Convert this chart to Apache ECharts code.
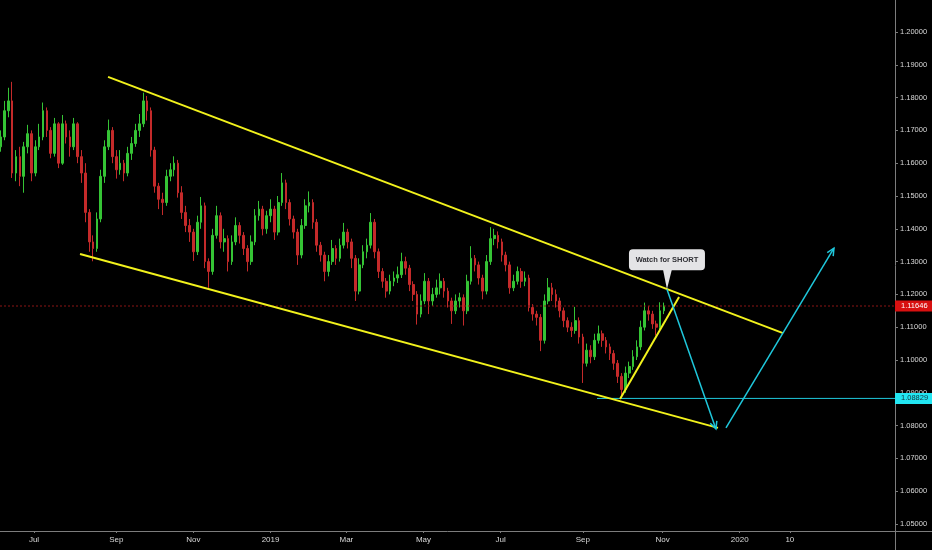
<!DOCTYPE html>
<html><head><meta charset="utf-8">
<script src="https://cdn.jsdelivr.net/npm/echarts@6/dist/echarts.min.js"></script>
<style>html,body{margin:0;padding:0;background:#000}#c{width:932px;height:550px}</style>
</head><body><div id="c"></div>
<script>
// Days counted from 1 Jul 2018; one candle per 3 days
const firstDay = -26;
const stepDays = 3;
// [open, close, low, high]
const ohlc = [
[1.1650,1.1680,1.1635,1.1700],[1.1680,1.1760,1.1670,1.1790],[1.1760,1.1790,1.1740,1.1830],[1.1790,1.1570,1.1555,1.1848],
[1.1570,1.1620,1.1545,1.1640],[1.1620,1.1560,1.1530,1.1650],[1.1560,1.1650,1.1510,1.1665],[1.1650,1.1690,1.1630,1.1717],
[1.1690,1.1570,1.1545,1.1700],[1.1570,1.1650,1.1560,1.1670],[1.1650,1.1680,1.1640,1.1720],[1.1680,1.1760,1.1670,1.1785],
[1.1760,1.1700,1.1680,1.1770],[1.1700,1.1630,1.1615,1.1710],[1.1630,1.1720,1.1620,1.1738],[1.1720,1.1600,1.1585,1.1725],
[1.1600,1.1720,1.1595,1.1747],[1.1720,1.1680,1.1660,1.1730],[1.1680,1.1650,1.1620,1.1700],[1.1650,1.1720,1.1640,1.1738],
[1.1720,1.1620,1.1600,1.1725],[1.1620,1.1570,1.1540,1.1640],[1.1570,1.1450,1.1420,1.1600],[1.1450,1.1360,1.1330,1.1460],
[1.1360,1.1340,1.1301,1.1380],[1.1340,1.1430,1.1330,1.1450],[1.1430,1.1560,1.1420,1.1580],[1.1560,1.1650,1.1540,1.1670],
[1.1650,1.1700,1.1640,1.1733],[1.1700,1.1620,1.1600,1.1710],[1.1620,1.1580,1.1553,1.1640],[1.1580,1.1600,1.1565,1.1640],
[1.1600,1.1570,1.1545,1.1610],[1.1570,1.1630,1.1560,1.1650],[1.1630,1.1660,1.1610,1.1680],[1.1660,1.1700,1.1650,1.1720],
[1.1700,1.1720,1.1680,1.1750],[1.1720,1.1790,1.1710,1.1815],[1.1790,1.1760,1.1730,1.1805],[1.1760,1.1640,1.1620,1.1770],
[1.1640,1.1530,1.1510,1.1650],[1.1530,1.1490,1.1460,1.1540],[1.1490,1.1480,1.1442,1.1510],[1.1480,1.1560,1.1470,1.1580],
[1.1560,1.1580,1.1545,1.1600],[1.1580,1.1600,1.1560,1.1621],[1.1600,1.1510,1.1495,1.1610],[1.1510,1.1450,1.1430,1.1530],
[1.1450,1.1410,1.1390,1.1470],[1.1410,1.1390,1.1360,1.1430],[1.1390,1.1330,1.1302,1.1400],[1.1330,1.1420,1.1320,1.1440],
[1.1420,1.1470,1.1400,1.1497],[1.1470,1.1300,1.1280,1.1480],[1.1300,1.1270,1.1220,1.1310],[1.1270,1.1380,1.1260,1.1400],
[1.1380,1.1440,1.1370,1.1470],[1.1440,1.1360,1.1340,1.1450],[1.1360,1.1370,1.1330,1.1400],[1.1370,1.1300,1.1270,1.1380],
[1.1300,1.1360,1.1290,1.1380],[1.1360,1.1410,1.1350,1.1435],[1.1410,1.1380,1.1355,1.1420],[1.1380,1.1340,1.1320,1.1390],
[1.1340,1.1300,1.1270,1.1350],[1.1300,1.1360,1.1290,1.1380],[1.1360,1.1440,1.1350,1.1460],[1.1440,1.1460,1.1425,1.1485],
[1.1460,1.1400,1.1380,1.1470],[1.1400,1.1440,1.1385,1.1455],[1.1440,1.1460,1.1420,1.1490],[1.1460,1.1390,1.1366,1.1470],
[1.1390,1.1480,1.1380,1.1500],[1.1480,1.1540,1.1470,1.1570],[1.1540,1.1480,1.1460,1.1550],[1.1480,1.1430,1.1410,1.1490],
[1.1430,1.1390,1.1370,1.1440],[1.1390,1.1320,1.1290,1.1400],[1.1320,1.1410,1.1310,1.1430],[1.1410,1.1470,1.1400,1.1490],
[1.1470,1.1480,1.1450,1.1514],[1.1480,1.1420,1.1400,1.1490],[1.1420,1.1350,1.1330,1.1430],[1.1350,1.1320,1.1300,1.1360],
[1.1320,1.1270,1.1240,1.1330],[1.1270,1.1300,1.1255,1.1320],[1.1300,1.1340,1.1290,1.1366],[1.1340,1.1310,1.1290,1.1350],
[1.1310,1.1350,1.1300,1.1370],[1.1350,1.1390,1.1340,1.1418],[1.1390,1.1360,1.1340,1.1400],[1.1360,1.1310,1.1280,1.1370],
[1.1310,1.1210,1.1180,1.1320],[1.1210,1.1290,1.1200,1.1310],[1.1290,1.1330,1.1280,1.1350],[1.1330,1.1350,1.1310,1.1370],
[1.1350,1.1420,1.1340,1.1448],[1.1420,1.1330,1.1310,1.1430],[1.1330,1.1270,1.1250,1.1340],[1.1270,1.1240,1.1220,1.1280],
[1.1240,1.1210,1.1190,1.1250],[1.1210,1.1240,1.1200,1.1260],[1.1240,1.1250,1.1225,1.1270],[1.1250,1.1260,1.1235,1.1285],
[1.1260,1.1300,1.1250,1.1327],[1.1300,1.1280,1.1260,1.1315],[1.1280,1.1230,1.1210,1.1290],[1.1230,1.1200,1.1180,1.1240],
[1.1200,1.1140,1.1108,1.1210],[1.1140,1.1180,1.1130,1.1200],[1.1180,1.1240,1.1170,1.1265],[1.1240,1.1180,1.1140,1.1250],
[1.1180,1.1200,1.1165,1.1220],[1.1200,1.1220,1.1190,1.1245],[1.1220,1.1240,1.1200,1.1264],[1.1240,1.1210,1.1190,1.1250],
[1.1210,1.1180,1.1160,1.1220],[1.1180,1.1150,1.1110,1.1190],[1.1150,1.1180,1.1140,1.1200],[1.1180,1.1190,1.1160,1.1205],
[1.1190,1.1150,1.1105,1.1200],[1.1150,1.1240,1.1140,1.1260],[1.1240,1.1310,1.1230,1.1347],[1.1310,1.1290,1.1270,1.1320],
[1.1290,1.1250,1.1230,1.1300],[1.1250,1.1210,1.1185,1.1260],[1.1210,1.1300,1.1200,1.1320],[1.1300,1.1370,1.1290,1.1405],
[1.1370,1.1380,1.1350,1.1400],[1.1380,1.1360,1.1340,1.1392],[1.1360,1.1320,1.1300,1.1370],[1.1320,1.1290,1.1270,1.1330],
[1.1290,1.1220,1.1202,1.1300],[1.1220,1.1240,1.1210,1.1260],[1.1240,1.1270,1.1230,1.1285],[1.1270,1.1240,1.1220,1.1280],
[1.1240,1.1250,1.1225,1.1270],[1.1250,1.1160,1.1148,1.1260],[1.1160,1.1140,1.1120,1.1170],[1.1140,1.1130,1.1105,1.1150],
[1.1130,1.1060,1.1027,1.1140],[1.1060,1.1180,1.1050,1.1200],[1.1180,1.1220,1.1170,1.1250],[1.1220,1.1200,1.1180,1.1235],
[1.1200,1.1180,1.1160,1.1215],[1.1180,1.1150,1.1130,1.1190],[1.1150,1.1120,1.1100,1.1160],[1.1120,1.1100,1.1085,1.1130],
[1.1100,1.1090,1.1070,1.1115],[1.1090,1.1120,1.1080,1.1162],[1.1120,1.1070,1.1050,1.1130],[1.1070,1.0990,1.0930,1.1080],
[1.0990,1.1030,1.0980,1.1050],[1.1030,1.1010,1.0990,1.1045],[1.1010,1.1060,1.1000,1.1080],[1.1060,1.1080,1.1050,1.1105],
[1.1080,1.1060,1.1040,1.1090],[1.1060,1.1040,1.1020,1.1070],[1.1040,1.1020,1.1000,1.1050],[1.1020,1.0990,1.0970,1.1030],
[1.0990,1.0950,1.0930,1.1000],[1.0950,1.0910,1.0883,1.0960],[1.0910,1.0960,1.0900,1.0980],[1.0960,1.0980,1.0945,1.0995],
[1.0980,1.1010,1.0970,1.1030],[1.1010,1.1040,1.1000,1.1060],[1.1040,1.1100,1.1030,1.1120],[1.1100,1.1150,1.1090,1.1175],
[1.1150,1.1140,1.1120,1.1165],[1.1140,1.1110,1.1095,1.1150],[1.1110,1.1100,1.1075,1.1120],[1.1100,1.1150,1.1090,1.1176],
[1.1150,1.1165,1.1140,1.1175]
];
const tickDays = [0, 64, 124, 184, 243, 303, 363, 427, 489, 549, 588];
const tickLabels = ['Jul', 'Sep', 'Nov', '2019', 'Mar', 'May', 'Jul', 'Sep', 'Nov', '2020', '10'];
const priceTicks = [1.05, 1.06, 1.07, 1.08, 1.09, 1.10, 1.11, 1.12, 1.13, 1.14, 1.15, 1.16, 1.17, 1.18, 1.19, 1.20];
const lastPrice = 1.11646;
const supportLevel = 1.08829;
const supportStartDay = 438;
// [day1, price1, day2, price2]
const yellowLines = [[57.6, 1.1863, 582.7, 1.1082], [35.8, 1.1323, 532.1, 1.0793], [455.9, 1.0881, 501.8, 1.1192]];
const cyanArrows = [[492.4, 1.1216, 530.5, 1.0790], [538.3, 1.0793, 622.3, 1.1341]];
const calloutPoint = [492.4, 1.1216];
const calloutText = 'Watch for SHORT';

const candleData = ohlc.map((v, i) => [firstDay + i * stepDays, v[0], v[1], v[2], v[3]]);
const FONT = 'Liberation Sans, Arial, sans-serif';
const CYAN = '#1fc8dc';
const YELLOW = '#f2f21c';
const AXIS = '#7c7c7c';

const chart = echarts.init(document.getElementById('c'), null, {renderer: 'canvas'});

function segItem(params, api) {
  const a = api.coord([api.value(0), api.value(1)]);
  const b = api.coord([api.value(2), api.value(3)]);
  return {type: 'line', shape: {x1: a[0], y1: a[1], x2: b[0], y2: b[1]}, style: {stroke: YELLOW, lineWidth: 2}};
}
function arrowItem(params, api) {
  const a = api.coord([api.value(0), api.value(1)]);
  const b = api.coord([api.value(2), api.value(3)]);
  const ang = Math.atan2(b[1] - a[1], b[0] - a[0]);
  const L = 8, w = 0.45;
  const p1 = [b[0] - L * Math.cos(ang - w), b[1] - L * Math.sin(ang - w)];
  const p2 = [b[0] - L * Math.cos(ang + w), b[1] - L * Math.sin(ang + w)];
  return {type: 'group', children: [
    {type: 'line', shape: {x1: a[0], y1: a[1], x2: b[0], y2: b[1]}, style: {stroke: CYAN, lineWidth: 1.5}},
    {type: 'polyline', shape: {points: [p1, b, p2]}, style: {stroke: CYAN, lineWidth: 1.5, fill: null}}
  ]};
}
function levelItem(params, api) {
  const cs = params.coordSys;
  const price = api.value(0);
  const start = api.value(1);
  const kind = api.value(2);
  const y = api.coord([0, price])[1];
  const xs = kind === 0 ? cs.x : api.coord([start, price])[0];
  const xe = cs.x + cs.width;
  const lineStyle = kind === 0 ? {stroke: '#8c1414', lineWidth: 1, lineDash: [2, 2]} : {stroke: CYAN, lineWidth: 1};
  const bg = kind === 0 ? '#d81010' : '#22e6f2';
  const fg = kind === 0 ? '#ffffff' : '#10323a';
  return {type: 'group', children: [
    {type: 'line', shape: {x1: xs, y1: y, x2: xe, y2: y}, style: lineStyle},
    {type: 'rect', shape: {x: xe, y: y - 5.5, width: 40, height: 11}, style: {fill: bg}},
    {type: 'text', style: {text: price.toFixed(5), x: xe + 6, y: y, fill: fg, font: '7.5px ' + FONT, textAlign: 'left', textVerticalAlign: 'middle'}}
  ]};
}
function frameItem(params, api) {
  const cs = params.coordSys;
  const xr = cs.x + cs.width, yb = cs.y + cs.height;
  return {type: 'group', children: [
    {type: 'line', shape: {x1: xr + 0.5, y1: yb, x2: xr + 0.5, y2: yb + 30}, style: {stroke: AXIS, lineWidth: 1}},
    {type: 'line', shape: {x1: xr, y1: yb + 0.5, x2: xr + 40, y2: yb + 0.5}, style: {stroke: AXIS, lineWidth: 1}}
  ]};
}
function calloutItem(params, api) {
  const p = api.coord([api.value(0), api.value(1)]);
  const bx = p[0] - 38, by = p[1] - 40, bw = 76, bh = 21;
  return {type: 'group', children: [
    {type: 'polygon', shape: {points: [[p[0] - 4, by + bh - 1], [p[0] + 5, by + bh - 1], [p[0], p[1]]]}, style: {fill: '#e4e4e6'}},
    {type: 'rect', shape: {x: bx, y: by, width: bw, height: bh, r: 4}, style: {fill: '#e4e4e6'}},
    {type: 'text', style: {text: calloutText, x: p[0], y: by + bh / 2, fill: '#2e2e33', font: 'bold 7.5px ' + FONT, textAlign: 'center', textVerticalAlign: 'middle'}}
  ]};
}

const option = {
  backgroundColor: '#000000',
  animation: false,
  grid: {left: 0, right: 37, top: 0, bottom: 19, containLabel: false, outerBoundsMode: 'none'},
  xAxis: {
    type: 'value', min: -26.45, max: 669.8,
    axisLine: {show: true, onZero: false, lineStyle: {color: AXIS, width: 1}},
    axisTick: {show: true, customValues: tickDays, length: 2, lineStyle: {color: AXIS}},
    axisLabel: {show: true, customValues: tickDays, margin: 5, color: '#d8d8d8', fontSize: 8, fontFamily: FONT,
      formatter: function (v) { const i = tickDays.findIndex(t => Math.abs(t - v) < 0.01); return i >= 0 ? tickLabels[i] : ''; }},
    splitLine: {show: false}
  },
  yAxis: {
    type: 'value', position: 'right', min: 1.047866, max: 1.209756, scale: true,
    axisLine: {show: true, onZero: false, lineStyle: {color: AXIS, width: 1}},
    axisTick: {show: true, customValues: priceTicks, length: 3, lineStyle: {color: AXIS}},
    axisLabel: {show: true, customValues: priceTicks, margin: 5, color: '#d8d8d8', fontSize: 7.5, fontFamily: FONT,
      formatter: function (v) { return v.toFixed(5); }},
    splitLine: {show: false}
  },
  series: [
    {type: 'candlestick', data: candleData, encode: {x: 0, y: [1, 2, 3, 4]}, barWidth: 2.2, z: 2,
      itemStyle: {color: '#35c435', color0: '#c42a2a', borderColor: '#35c435', borderColor0: '#c42a2a', borderWidth: 1}},
    {type: 'custom', renderItem: frameItem, z: 1, clip: false, encode: {x: 0, y: 1}, data: [[0, 1.1]]},
    {type: 'custom', renderItem: levelItem, z: 3, clip: false, encode: {x: 1, y: 0},
      data: [[lastPrice, 0, 0], [supportLevel, supportStartDay, 1]]},
    {type: 'custom', renderItem: segItem, z: 4, clip: false, encode: {x: [0, 2], y: [1, 3]}, data: yellowLines},
    {type: 'custom', renderItem: arrowItem, z: 5, clip: false, encode: {x: [0, 2], y: [1, 3]}, data: cyanArrows},
    {type: 'custom', renderItem: calloutItem, z: 6, clip: false, encode: {x: 0, y: 1}, data: [calloutPoint]}
  ]
};
chart.setOption(option);
</script>
</body></html>
